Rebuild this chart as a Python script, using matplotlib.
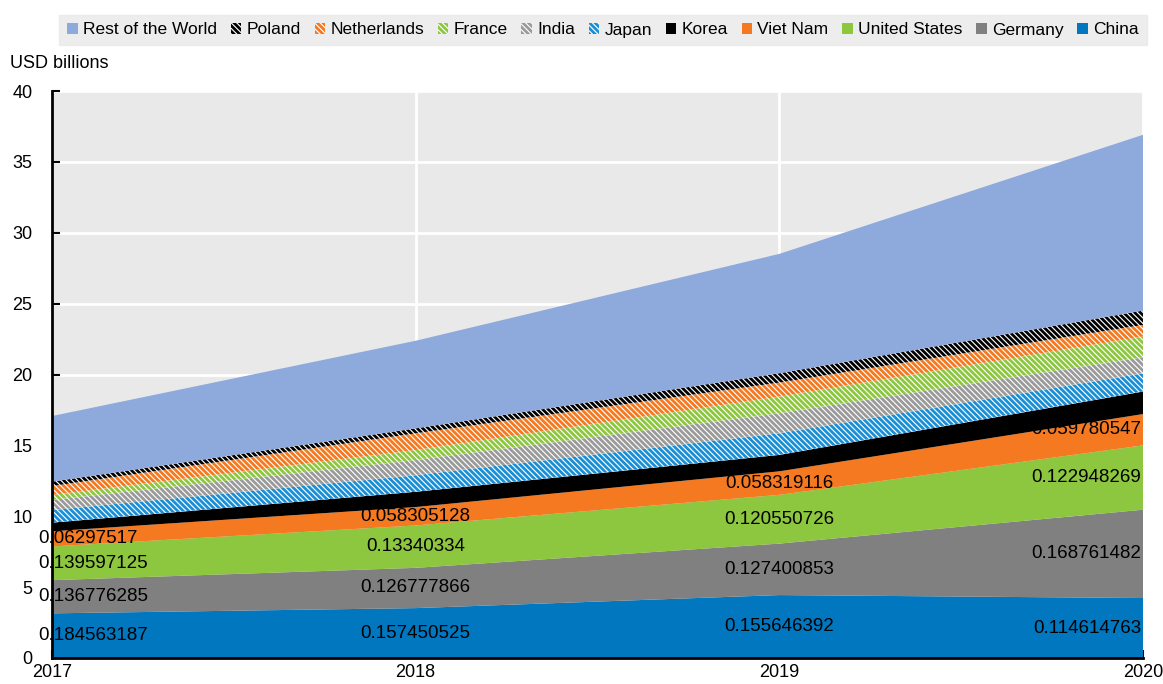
import numpy as np
import matplotlib
matplotlib.use('Agg')
from matplotlib import pyplot as plt
from matplotlib.patches import Patch

plt.rcParams['font.family'] = ['Liberation Sans', 'DejaVu Sans']
plt.rcParams['hatch.linewidth'] = 2.0

years = [2017, 2018, 2019, 2020]

# USD billions, stacked bottom to top
china = [3.15, 3.52, 4.44, 4.23]
germany = [2.34, 2.84, 3.63, 6.23]
united_states = [2.38, 2.99, 3.44, 4.54]
viet_nam = [1.07, 1.30, 1.66, 2.21]
korea = [0.61, 1.08, 1.16, 1.59]
japan = [0.89, 1.17, 1.53, 1.29]
india = [0.71, 1.07, 1.41, 1.13]
france = [0.35, 0.70, 1.17, 1.46]
netherlands = [0.63, 1.18, 0.99, 0.82]
poland = [0.31, 0.35, 0.66, 1.01]
rest_of_world = [4.63, 6.18, 8.42, 12.40]

# share labels as printed on the chart
china_lbl = ['0.184563187', '0.157450525', '0.155646392', '0.114614763']
germany_lbl = ['0.136776285', '0.126777866', '0.127400853', '0.168761482']
us_lbl = ['0.139597125', '0.13340334', '0.120550726', '0.122948269']
vn_lbl = ['0.06297517', '0.058305128', '0.058319116', '0.059780547']

stripes = '\\' * 6
layers = [
    ('China', china, '#0077bf', None),
    ('Germany', germany, '#808080', None),
    ('United States', united_states, '#8dc63f', None),
    ('Viet Nam', viet_nam, '#f47920', None),
    ('Korea', korea, '#000000', None),
    ('Japan', japan, '#1a8fd6', stripes),
    ('India', india, '#9a9a9a', stripes),
    ('France', france, '#8dc63f', stripes),
    ('Netherlands', netherlands, '#f47920', stripes),
    ('Poland', poland, '#000000', stripes),
    ('Rest of the World', rest_of_world, '#8eaadc', None),
]

fig = plt.figure(figsize=(11.63, 6.84), dpi=100)
ax = fig.add_axes([52 / 1163, 1 - 658 / 684, (1143 - 52) / 1163, (658 - 91) / 684])
ax.set_facecolor('#e9e9e9')

x = np.array(years, dtype=float)
bottom = np.zeros(len(years))
bounds = {}
handles = []
for name, vals, color, hatch in layers:
    top = bottom + np.array(vals)
    if hatch:
        ax.fill_between(x, bottom, top, facecolor='white', edgecolor=color,
                        hatch=hatch, linewidth=0, zorder=2)
        handles.append(Patch(facecolor='white', edgecolor=color, hatch=hatch, linewidth=0, label=name))
    else:
        ax.fill_between(x, bottom, top, facecolor=color, linewidth=0, zorder=2)
        handles.append(Patch(facecolor=color, linewidth=0, label=name))
    bounds[name] = (bottom.copy(), top.copy())
    bottom = top

# value labels
for name, lbls in [('China', china_lbl), ('Germany', germany_lbl),
                   ('United States', us_lbl), ('Viet Nam', vn_lbl)]:
    lo, hi = bounds[name]
    for i, yr in enumerate(years):
        mid = (lo[i] + hi[i]) / 2
        if i == 0:
            ha, dx = 'left', -14
        elif i == len(years) - 1:
            ha, dx = 'right', -2
        else:
            ha, dx = 'center', 0
        ax.annotate(lbls[i], (yr, mid), xytext=(dx, 0), textcoords='offset pixels',
                    ha=ha, va='center', fontsize=13.5, color='black',
                    zorder=5, annotation_clip=False)

ax.set_xlim(2017, 2020)
ax.set_ylim(0, 40)
ax.set_yticks(range(0, 41, 5))
ax.set_xticks(years)
ax.set_xticklabels([str(y) for y in years])
ax.grid(True, color='white', linewidth=2, zorder=1)
ax.set_axisbelow(True)
ax.tick_params(axis='both', direction='in', length=6, width=1.5, labelsize=13, colors='black')
ax.tick_params(axis='y', pad=14)
ax.tick_params(axis='x', pad=4)
for s in ['top', 'right']:
    ax.spines[s].set_visible(False)
for s in ['left', 'bottom']:
    ax.spines[s].set_linewidth(2)
    ax.spines[s].set_zorder(4)

fig.text(10 / 1163, 1 - 64 / 684, 'USD billions', fontsize=13, va='center', ha='left')

leg = fig.legend(handles=handles[::-1], loc='center', ncol=11,
                 bbox_to_anchor=(603 / 1163, 1 - 30 / 684), frameon=True,
                 fontsize=12.5, handlelength=0.6, handleheight=0.6,
                 handletextpad=0.3, columnspacing=0.8, borderpad=0.45,
                 fancybox=False)
leg.get_frame().set_facecolor('#e9e9e9')
leg.get_frame().set_edgecolor('#e9e9e9')

fig.savefig('out.png', dpi=100)
